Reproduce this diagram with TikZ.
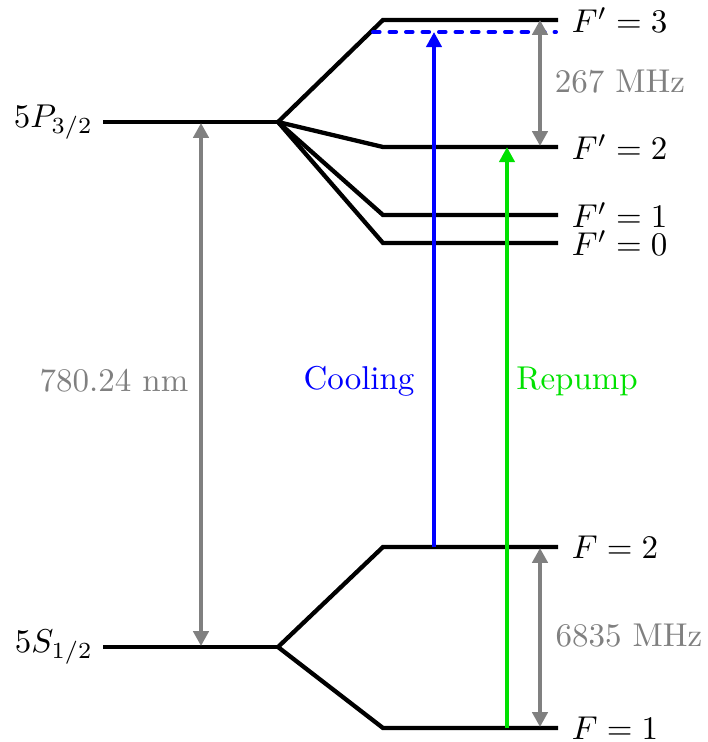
\documentclass[tikz,border=0pt]{standalone}
\usepackage{xcolor}
\usetikzlibrary{positioning,arrows.meta}
\definecolor{gapgray}{gray}{0.5}
\definecolor{repumpgreen}{RGB}{0,225,0}

\begin{document}
\begin{tikzpicture}[x=0.303pt, y=-0.303pt,
    lvl/.style={line width=1.3pt},
    gaparrow/.style={gapgray, line width=1.5pt, {Triangle[length=4.5pt,width=4.6pt]}-{Triangle[length=4.5pt,width=4.6pt]}},
    laser/.style={line width=1.3pt, -{Triangle[length=4.6pt,width=4.6pt]}},
    statelabel/.style={anchor=east, inner sep=1pt},
    hfslabel/.style={anchor=west, inner sep=1pt}]
    \useasboundingbox (0,0) rectangle (707,742);

    % fine structure levels
    \coordinate (P-left) at (103,122);
    \coordinate (P-split) at (278,122);
    \coordinate (S-left) at (103,647);
    \coordinate (S-split) at (278,647);
    \coordinate (P-gap) at (201,123);
    \coordinate (S-gap) at (201,646);

    % hyperfine levels: name / height
    \foreach \name/\y in {Fp3/20, Fp2/147, Fp1/215, Fp0/243} {
        \coordinate (\name-in) at (383,\y);
        \coordinate (\name-out) at (558,\y);
    }
    \foreach \name/\y in {F2/547, F1/728} {
        \coordinate (\name-in) at (383,\y);
        \coordinate (\name-out) at (558,\y);
    }

    \draw[lvl] (P-left) -- (P-split);
    \draw[lvl] (S-left) -- (S-split);
    \foreach \name in {Fp3, Fp2, Fp1, Fp0} {
        \draw[lvl] (P-split) -- (\name-in) -- (\name-out);
    }
    \foreach \name in {F2, F1} {
        \draw[lvl] (S-split) -- (\name-in) -- (\name-out);
    }

    \node[statelabel] (lblP) at (97,122) {$5P_{3/2}$};
    \node[statelabel] (lblS) at (97,647) {$5S_{1/2}$};
    \node[hfslabel] (lblFp3) at (568,20) {$F'=3$};
    \node[hfslabel] (lblFp2) at (568,147) {$F'=2$};
    \node[hfslabel] (lblFp1) at (568,215) {$F'=1$};
    \node[hfslabel] (lblFp0) at (568,243) {$F'=0$};
    \node[hfslabel] (lblF2) at (568,547) {$F=2$};
    \node[hfslabel] (lblF1) at (568,728) {$F=1$};

    % detuned cooling level
    \coordinate (det-in) at (373,32);
    \coordinate (det-out) at (556,32);
    \draw[blue, line width=1.2pt, line cap=round, dash pattern=on 2pt off 3pt] (det-in) -- (det-out);

    % splittings
    \draw[gaparrow] (P-gap) -- (S-gap);
    \node[gapgray] (lblopt) at (114,381) {780.24 nm};
    \coordinate (hfsP-top) at (540,20);
    \coordinate (hfsP-bot) at (540,146);
    \draw[gaparrow] (hfsP-top) -- (hfsP-bot);
    \node[gapgray] (lblhfsP) at (620,82) {267 MHz};
    \coordinate (hfsS-top) at (540,548);
    \coordinate (hfsS-bot) at (540,727);
    \draw[gaparrow] (hfsS-top) -- (hfsS-bot);
    \node[gapgray] (lblhfsS) at (629,636) {6835 MHz};

    % lasers
    \coordinate (cool-from) at (434,547);
    \coordinate (cool-to) at (434,32);
    \draw[laser, blue] (cool-from) -- (cool-to);
    \node[blue] (lblcool) at (359,381) {Cooling};
    \coordinate (rep-from) at (507,728);
    \coordinate (rep-to) at (507,147);
    \draw[laser, repumpgreen] (rep-from) -- (rep-to);
    \node[repumpgreen] (lblrep) at (577,381) {Repump};
\end{tikzpicture}
\end{document}
